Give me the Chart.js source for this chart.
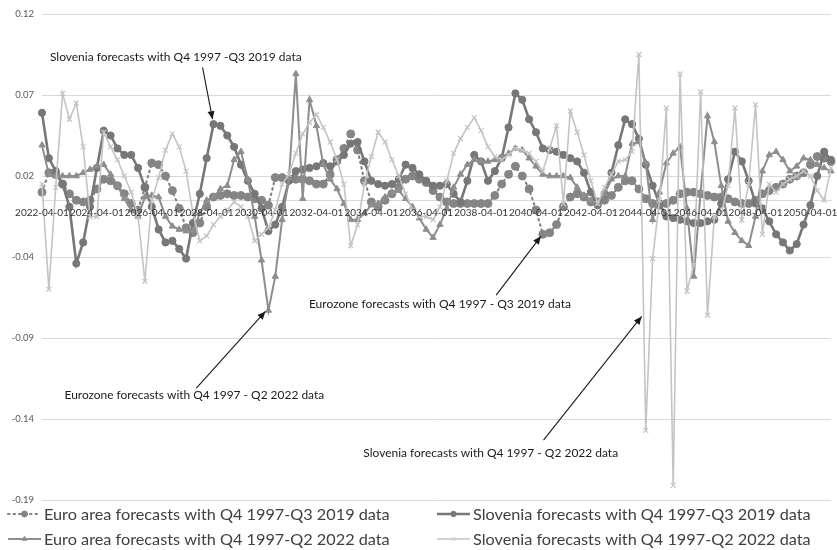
<!DOCTYPE html>
<html><head><meta charset="utf-8">
<script src="https://cdn.jsdelivr.net/npm/chart.js@4.4.1/dist/chart.umd.min.js"></script>
<style>html,body{margin:0;padding:0;background:#fff;}canvas{display:block;}</style>
</head><body>
<canvas id="c" width="837" height="550"></canvas>
<script>
const categories = [
'2022-04-01','2022-07-01','2022-10-01',
'2023-01-01','2023-04-01','2023-07-01','2023-10-01',
'2024-01-01','2024-04-01','2024-07-01','2024-10-01',
'2025-01-01','2025-04-01','2025-07-01','2025-10-01',
'2026-01-01','2026-04-01','2026-07-01','2026-10-01',
'2027-01-01','2027-04-01','2027-07-01','2027-10-01',
'2028-01-01','2028-04-01','2028-07-01','2028-10-01',
'2029-01-01','2029-04-01','2029-07-01','2029-10-01',
'2030-01-01','2030-04-01','2030-07-01','2030-10-01',
'2031-01-01','2031-04-01','2031-07-01','2031-10-01',
'2032-01-01','2032-04-01','2032-07-01','2032-10-01',
'2033-01-01','2033-04-01','2033-07-01','2033-10-01',
'2034-01-01','2034-04-01','2034-07-01','2034-10-01',
'2035-01-01','2035-04-01','2035-07-01','2035-10-01',
'2036-01-01','2036-04-01','2036-07-01','2036-10-01',
'2037-01-01','2037-04-01','2037-07-01','2037-10-01',
'2038-01-01','2038-04-01','2038-07-01','2038-10-01',
'2039-01-01','2039-04-01','2039-07-01','2039-10-01',
'2040-01-01','2040-04-01','2040-07-01','2040-10-01',
'2041-01-01','2041-04-01','2041-07-01','2041-10-01',
'2042-01-01','2042-04-01','2042-07-01','2042-10-01',
'2043-01-01','2043-04-01','2043-07-01','2043-10-01',
'2044-01-01','2044-04-01','2044-07-01','2044-10-01',
'2045-01-01','2045-04-01','2045-07-01','2045-10-01',
'2046-01-01','2046-04-01','2046-07-01','2046-10-01',
'2047-01-01','2047-04-01','2047-07-01','2047-10-01',
'2048-01-01','2048-04-01','2048-07-01','2048-10-01',
'2049-01-01','2049-04-01','2049-07-01','2049-10-01',
'2050-01-01','2050-04-01','2050-07-01','2050-10-01',
'2051-01-01'
];

// Euro area forecasts with Q4 1997-Q3 2019 data
const euroArea2019 = [
 0.005, 0.017, 0.016, 0.010, 0.004, 0.000, -0.001, 0.000, 0.007, 0.013,
 0.012, 0.009, 0.004, -0.002, -0.006, 0.008, 0.023, 0.022, 0.015, 0.006,
 -0.005, -0.017, -0.020, -0.014, -0.004, 0.002, 0.003, 0.004, 0.003, 0.003,
 0.002, 0.001, 0.000, -0.003, 0.014, 0.014, 0.013, 0.013, 0.013, 0.012,
 0.010, 0.010, 0.016, 0.025, 0.032, 0.041, 0.031, 0.012, -0.001, -0.004,
 0.000, 0.004, 0.008, 0.013, 0.015, 0.013, 0.011, 0.006, 0.002, -0.001,
 -0.002, -0.002, -0.002, -0.002, -0.002, -0.002, 0.003, 0.010, 0.016, 0.021,
 0.015, 0.007, -0.006, -0.021, -0.020, -0.015, -0.004, 0.002, 0.004, 0.002,
 -0.001, -0.001, 0.000, 0.003, 0.008, 0.012, 0.012, 0.007, 0.001, -0.002,
 -0.003, -0.002, 0.000, 0.004, 0.005, 0.005, 0.004, 0.003, 0.002, 0.002,
 0.001, -0.001, -0.002, -0.002, 0.000, 0.004, 0.006, 0.008, 0.010, 0.013,
 0.015, 0.017, 0.022, 0.027, 0.026, 0.024
];
// Slovenia forecasts with Q4 1997-Q3 2019 data
const slovenia2019 = [
 0.054, 0.026, 0.018, 0.010, -0.004, -0.039, -0.026, -0.004, 0.020, 0.043,
 0.040, 0.032, 0.028, 0.028, 0.020, 0.008, -0.004, -0.018, -0.026, -0.025,
 -0.030, -0.036, -0.014, 0.004, 0.026, 0.047, 0.046, 0.040, 0.033, 0.022,
 0.012, 0.004, -0.005, -0.019, -0.015, -0.004, 0.012, 0.018, 0.019, 0.020,
 0.021, 0.023, 0.021, 0.024, 0.028, 0.035, 0.036, 0.024, 0.012, 0.010,
 0.009, 0.010, 0.013, 0.022, 0.020, 0.016, 0.012, 0.009, 0.009, 0.010,
 0.004, -0.001, 0.012, 0.028, 0.024, 0.012, 0.018, 0.026, 0.045, 0.066,
 0.062, 0.050, 0.042, 0.032, 0.031, 0.030, 0.028, 0.026, 0.024, 0.017,
 0.005, -0.003, 0.004, 0.017, 0.034, 0.050, 0.047, 0.038, 0.022, 0.009,
 -0.002, -0.010, -0.011, -0.012, -0.013, -0.014, -0.014, -0.013, -0.012, -0.002,
 0.013, 0.030, 0.024, 0.012, -0.002, -0.005, -0.013, -0.021, -0.026, -0.031,
 -0.027, -0.015, -0.003, 0.015, 0.030, 0.025
];
// Euro area forecasts with Q4 1997-Q2 2022 data
const euroArea2022 = [
 0.034, 0.016, 0.015, 0.015, 0.015, 0.015, 0.017, 0.019, 0.021, 0.022,
 0.016, 0.009, 0.001, -0.006, -0.010, 0.002, 0.003, 0.002, -0.010, -0.016,
 -0.018, -0.019, -0.019, -0.008, 0.000, 0.002, 0.007, 0.009, 0.025, 0.030,
 0.013, -0.010, -0.037, -0.068, -0.047, -0.012, 0.014, 0.078, 0.001, 0.062,
 0.046, 0.022, 0.013, 0.007, -0.002, -0.012, -0.012, -0.008, -0.003, -0.002,
 0.002, 0.005, 0.006, 0.001, -0.004, -0.011, -0.018, -0.023, -0.015, -0.005,
 0.008, 0.016, 0.022, 0.025, 0.024, 0.024, 0.025, 0.027, 0.029, 0.032,
 0.031, 0.026, 0.021, 0.016, 0.015, 0.015, 0.015, 0.014, 0.008, 0.003,
 0.000, -0.002, 0.004, 0.013, 0.015, 0.015, 0.035, 0.036, 0.023, -0.012,
 0.005, 0.023, 0.029, 0.033, -0.005, -0.047, 0.005, 0.052, 0.036, 0.009,
 -0.013, -0.020, -0.025, -0.028, -0.010, 0.018, 0.028, 0.030, 0.025, 0.018,
 0.021, 0.026, 0.025, 0.022, 0.020, 0.018
];
// Slovenia forecasts with Q4 1997-Q2 2022 data
const slovenia2022 = [
 0.010, -0.055, 0.008, 0.066, 0.050, 0.060, 0.033, -0.010, -0.010, 0.042,
 0.033, 0.025, 0.015, 0.005, -0.010, -0.050, 0.000, 0.014, 0.031, 0.041,
 0.033, 0.018, -0.008, -0.025, -0.022, -0.015, -0.010, -0.006, -0.001, -0.004,
 -0.010, -0.025, -0.021, -0.017, -0.006, 0.010, 0.016, 0.029, 0.041, 0.048,
 0.053, 0.045, 0.036, 0.025, 0.010, -0.028, -0.015, 0.010, 0.027, 0.042,
 0.036, 0.025, 0.015, 0.004, -0.006, -0.010, -0.010, -0.012, -0.004, 0.012,
 0.029, 0.038, 0.045, 0.051, 0.043, 0.033, 0.027, 0.025, 0.028, 0.032,
 0.031, 0.029, 0.024, 0.018, 0.032, 0.046, -0.002, 0.055, 0.042, 0.028,
 0.012, -0.002, 0.008, 0.016, 0.024, 0.025, 0.030, 0.090, -0.142, -0.036,
 0.000, 0.057, -0.176, 0.078, -0.056, -0.040, 0.067, -0.071, -0.010, -0.008,
 0.009, 0.057, -0.012, 0.010, 0.059, -0.021, 0.010, 0.005, 0.010, 0.013,
 0.015, 0.018, 0.015, 0.006, 0.000, 0.020
];

const seriesNames = [
 'Euro area forecasts with Q4 1997-Q3 2019 data',
 'Slovenia forecasts with Q4 1997-Q3 2019 data',
 'Euro area forecasts with Q4 1997-Q2 2022 data',
 'Slovenia forecasts with Q4 1997-Q2 2022 data'
];
const yTickLabels = ['-0.19', '-0.14', '-0.09', '-0.04', '0.02', '0.07', '0.12'];
const xLabelEvery = 8;

const annotationTexts = [
 'Slovenia forecasts with Q4 1997 -Q3 2019 data',
 'Eurozone forecasts with Q4 1997 - Q3 2019 data',
 'Eurozone forecasts with Q4 1997 - Q2 2022 data',
 'Slovenia forecasts with Q4 1997 - Q2 2022 data'
];

const FONT = 'Lato, "Open Sans", "Liberation Sans", sans-serif';

function fitSize(ctx, text, width, family) {
  ctx.save();
  ctx.font = '100px ' + family;
  const w = ctx.measureText(text).width;
  ctx.restore();
  return 100 * width / w;
}

// annotation placement: text centre in (category index, value) space, arrow start likewise, tip at a data point
const annotationLayout = [
 {ti: 0, cx: 19.5, cy: 0.0882, w: 252, sx: 23.4, sy: 0.082, ds: 1, pt: 25, dx: -1, dy: -5},
 {ti: 1, cx: 58.0, cy: -0.0643, w: 262, sx: 66.2, sy: -0.0585, ds: 0, pt: 73, dx: -2, dy: 2},
 {ti: 2, cx: 22.2, cy: -0.1205, w: 260, sx: 22.5, sy: -0.1160, ds: 2, pt: 33, dx: -3, dy: 1},
 {ti: 3, cx: 65.4, cy: -0.1563, w: 255, sx: 73.1, sy: -0.1480, ds: 3, pt: 87.4, dx: 0, dy: 0}
];

function drawArrow(ctx, x1, y1, x2, y2) {
  ctx.beginPath();
  ctx.moveTo(x1, y1);
  ctx.lineTo(x2, y2);
  ctx.stroke();
  const a = Math.atan2(y2 - y1, x2 - x1);
  const L = 8, H = 3.5;
  ctx.beginPath();
  ctx.moveTo(x2, y2);
  ctx.lineTo(x2 - L * Math.cos(a) + H * Math.sin(a), y2 - L * Math.sin(a) - H * Math.cos(a));
  ctx.lineTo(x2 - L * Math.cos(a) - H * Math.sin(a), y2 - L * Math.sin(a) + H * Math.cos(a));
  ctx.closePath();
  ctx.fill();
}

const overlayPlugin = {
  id: 'overlay',
  afterDraw(chart) {
    const ctx = chart.ctx;
    const xs = chart.scales.x, ys = chart.scales.y;
    ctx.save();
    // annotations
    annotationLayout.forEach(a => {
      const text = annotationTexts[a.ti];
      const size = fitSize(ctx, text, a.w, FONT);
      ctx.font = size.toFixed(2) + 'px ' + FONT;
      ctx.fillStyle = '#1a1a1a';
      ctx.textAlign = 'center';
      ctx.textBaseline = 'middle';
      const cx = xs.getPixelForValue(a.cx), cy = ys.getPixelForValue(a.cy);
      ctx.fillText(text, cx, cy);
      const sx = xs.getPixelForValue(a.sx), sy = ys.getPixelForValue(a.sy);
      let tx, ty;
      if (Number.isInteger(a.pt)) {
        const el = chart.getDatasetMeta(a.ds).data[a.pt];
        tx = el.x + a.dx; ty = el.y + a.dy;
      } else {
        tx = xs.getPixelForValue(a.pt);
        ty = ys.getPixelForValue(-0.0717);
      }
      ctx.strokeStyle = '#1a1a1a';
      ctx.fillStyle = '#1a1a1a';
      ctx.lineWidth = 1.1;
      drawArrow(ctx, sx, sy, tx, ty);
    });
    // legend (2 x 2)
    const rows = [514, 539];
    const cols = [{l: 8, r: 41, t: 44}, {l: 437, r: 470, t: 473}];
    const lsize = fitSize(ctx, seriesNames[0], 346, FONT);
    [0, 1, 2, 3].forEach((di, k) => {
      const ds = chart.data.datasets[di];
      const col = cols[k % 2], y = rows[Math.floor(k / 2)];
      ctx.save();
      ctx.strokeStyle = ds.borderColor;
      ctx.lineWidth = ds.borderWidth;
      ctx.setLineDash(ds.borderDash || []);
      ctx.lineCap = ds.borderCapStyle || 'butt';
      ctx.beginPath();
      ctx.moveTo(col.l, y); ctx.lineTo(col.r, y); ctx.stroke();
      ctx.setLineDash([]);
      ctx.fillStyle = ds.pointBackgroundColor;
      ctx.strokeStyle = ds.pointBorderColor;
      ctx.lineWidth = 1;
      Chart.helpers.drawPoint(ctx, {pointStyle: ds.pointStyle, radius: ds.pointRadius * 0.75, borderWidth: 1, rotation: 0}, (col.l + col.r) / 2, y);
      ctx.restore();
      ctx.font = lsize.toFixed(2) + 'px ' + FONT;
      ctx.fillStyle = '#404040';
      ctx.textAlign = 'left';
      ctx.textBaseline = 'middle';
      ctx.fillText(seriesNames[di], col.t, y + 1);
    });
    ctx.restore();
  }
};

const colors = {
  euro2019: '#858585',
  slo2019: '#777777',
  euro2022: '#8e8e8e',
  slo2022: '#c4c4c4'
};

new Chart(document.getElementById('c'), {
  type: 'line',
  data: {
    labels: categories,
    datasets: [
      {label: seriesNames[0], data: euroArea2019, borderColor: colors.euro2019, borderWidth: 2.2,
       borderDash: [1.5, 4], borderCapStyle: 'round', pointStyle: 'circle', pointRadius: 4,
       pointBackgroundColor: colors.euro2019, pointBorderColor: colors.euro2019, pointBorderWidth: 1, order: 3},
      {label: seriesNames[1], data: slovenia2019, borderColor: colors.slo2019, borderWidth: 2.6,
       pointStyle: 'circle', pointRadius: 3.6, pointBackgroundColor: colors.slo2019,
       pointBorderColor: colors.slo2019, pointBorderWidth: 1, order: 2},
      {label: seriesNames[2], data: euroArea2022, borderColor: colors.euro2022, borderWidth: 2,
       pointStyle: 'triangle', pointRadius: 3.6, pointBackgroundColor: colors.euro2022,
       pointBorderColor: colors.euro2022, pointBorderWidth: 1, order: 1},
      {label: seriesNames[3], data: slovenia2022, borderColor: colors.slo2022, borderWidth: 1.6,
       pointStyle: 'crossRot', pointRadius: 3.5, pointBackgroundColor: colors.slo2022,
       pointBorderColor: colors.slo2022, pointBorderWidth: 1.2, order: 0}
    ]
  },
  options: {
    responsive: false,
    animation: false,
    devicePixelRatio: 1,
    layout: {padding: {left: 6, right: 4, top: 14, bottom: 50}},
    plugins: {legend: {display: false}, tooltip: {enabled: false}},
    elements: {line: {tension: 0}},
    scales: {
      x: {
        type: 'category',
        position: {y: 0},
        offset: false,
        grid: {display: false, drawTicks: false},
        border: {display: true, color: '#d9d9d9', width: 1},
        ticks: {
          z: 1,
          autoSkip: false, maxRotation: 0, minRotation: 0, padding: 6,
          color: '#333333', font: {family: FONT, size: 10},
          callback: (v, i) => (i % xLabelEvery === 0 ? categories[i] : '')
        }
      },
      y: {
        type: 'linear',
        min: -0.185, max: 0.115,
        ticks: {
          stepSize: 0.05, color: '#595959', font: {family: FONT, size: 9.5}, padding: 8,
          callback: (v, i) => yTickLabels[i]
        },
        grid: {color: '#d9d9d9', lineWidth: 1, drawTicks: false},
        border: {display: false},
        afterFit: s => { s.width = 36; }
      }
    }
  },
  plugins: [overlayPlugin]
});
</script>
</body></html>
